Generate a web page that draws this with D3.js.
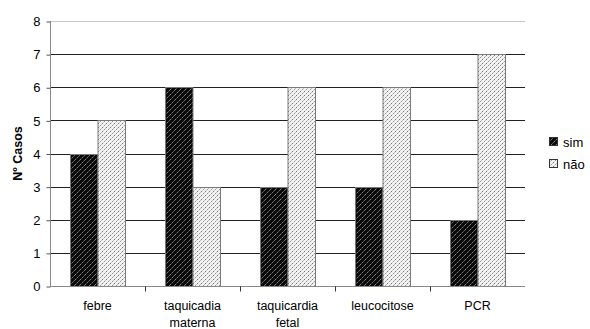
<!DOCTYPE html>
<html><head><meta charset="utf-8">
<script src="https://cdn.jsdelivr.net/npm/d3@7"></script>
<style>body{margin:0;background:#fff}svg{display:block;font-family:"Liberation Sans",Arial,sans-serif}</style>
</head><body><svg id="c" width="590" height="329"></svg>
<script>
const categories = [["febre"], ["taquicadia", "materna"], ["taquicardia", "fetal"], ["leucocitose"], ["PCR"]];
const seriesNames = ["sim", "não"];
const simValues = [4, 6, 3, 3, 2];
const naoValues = [5, 3, 6, 6, 7];
const yTicks = [0, 1, 2, 3, 4, 5, 6, 7, 8];

const svg = d3.select("#c");
const m = {l: 50, r: 525, t: 21, b: 286};
const defs = svg.append("defs");
const p1 = defs.append("pattern").attr("id", "pSim").attr("patternUnits", "userSpaceOnUse").attr("width", 5).attr("height", 5);
p1.append("rect").attr("width", 5).attr("height", 5).attr("fill", "#0a0a0a");
p1.append("path").attr("d", "M0,5 L5,0 M-1,1 L1,-1 M4,6 L6,4").attr("stroke", "#9a9a9a").attr("stroke-width", 0.9).attr("stroke-dasharray", "2,1");
const p2 = defs.append("pattern").attr("id", "pNao").attr("patternUnits", "userSpaceOnUse").attr("width", 4).attr("height", 4);
p2.append("rect").attr("width", 4).attr("height", 4).attr("fill", "#f2f2f2");
p2.append("rect").attr("x", 0).attr("y", 3).attr("width", 1).attr("height", 1).attr("fill", "#777");
p2.append("rect").attr("x", 2).attr("y", 1).attr("width", 1).attr("height", 1).attr("fill", "#999");
p2.append("rect").attr("x", 1).attr("y", 2).attr("width", 1).attr("height", 1).attr("fill", "#ccc");
p2.append("rect").attr("x", 3).attr("y", 0).attr("width", 1).attr("height", 1).attr("fill", "#bbb");

const x = d3.scaleBand().domain(d3.range(categories.length)).range([m.l, m.r]).paddingInner(0).paddingOuter(0);
const y = d3.scaleLinear().domain([0, 8]).range([m.b, m.t]);
const xs = d3.scaleBand().domain(seriesNames).range([0, x.bandwidth()]).paddingInner(0).paddingOuter(0.727);

svg.append("g").selectAll("line").data(yTicks.filter(d => d > 0)).join("line")
  .attr("x1", m.l).attr("x2", m.r).attr("y1", d => Math.round(y(d)) + 0.5).attr("y2", d => Math.round(y(d)) + 0.5)
  .attr("stroke", d => d === 8 ? "#c8c8c8" : "#222").attr("stroke-width", 1);

const data = categories.map((c, i) => ({i, vals: [simValues[i], naoValues[i]]}));
const g = svg.append("g").selectAll("g").data(data).join("g").attr("transform", d => `translate(${x(d.i)},0)`);
g.selectAll("rect").data(d => d.vals.map((v, k) => ({k, v}))).join("rect")
  .attr("x", d => xs(seriesNames[d.k]) + 0.5)
  .attr("y", d => Math.round(y(d.v)) + 0.5)
  .attr("width", xs.bandwidth())
  .attr("height", d => Math.round(y(0)) - Math.round(y(d.v)))
  .attr("fill", d => d.k === 0 ? "url(#pSim)" : "url(#pNao)")
  .attr("stroke", "#7a7a7a").attr("stroke-width", 1);

const ya = svg.append("g").attr("transform", `translate(${m.l + 0.5},0.5)`)
  .call(d3.axisLeft(y).tickValues(yTicks).tickSize(4).tickPadding(6).tickFormat(d3.format("d")));
ya.select(".domain").attr("stroke", "#888").attr("d", `M0,${Math.round(m.t)}V${m.b}`);
ya.selectAll(".tick line").attr("stroke", "#555");
ya.selectAll("text").attr("font-size", 13).attr("fill", "#000").attr("font-family", "Liberation Sans, Arial, sans-serif");

const xa = svg.append("g").attr("transform", `translate(0,${m.b + 0.5})`);
xa.append("line").attr("x1", m.l).attr("x2", m.r).attr("stroke", "#888");
xa.selectAll("line.t").data(d3.range(1, categories.length)).join("line").attr("class", "t")
  .attr("x1", d => Math.round(x(d)) + 0.5).attr("x2", d => Math.round(x(d)) + 0.5).attr("y1", 0).attr("y2", 5).attr("stroke", "#333");
const lbl = xa.selectAll("text").data(categories).join("text")
  .attr("x", (d, i) => x(i) + x.bandwidth() / 2).attr("y", 23)
  .attr("text-anchor", "middle").attr("font-size", 12.5).attr("fill", "#000");
lbl.selectAll("tspan").data(d => d).join("tspan")
  .attr("x", function() { return this.parentNode.getAttribute("x"); })
  .attr("dy", (d, k) => k === 0 ? 0 : 17).text(d => d);

svg.append("text").attr("transform", `translate(22,${(m.t + m.b) / 2}) rotate(-90)`)
  .attr("text-anchor", "middle").attr("font-size", 12.5).attr("font-weight", "bold").text("Nº Casos");

const lg = svg.append("g").attr("transform", "translate(549,137)");
const li = lg.selectAll("g").data(seriesNames).join("g").attr("transform", (d, i) => `translate(0,${i * 22})`);
li.append("rect").attr("x", 0.5).attr("y", 0.5).attr("width", 8).attr("height", 8)
  .attr("fill", (d, i) => i === 0 ? "url(#pSim)" : "url(#pNao)").attr("stroke", "#333");
li.append("text").attr("x", 14).attr("y", 9.5).attr("font-size", 13).text(d => d);
</script></body></html>
